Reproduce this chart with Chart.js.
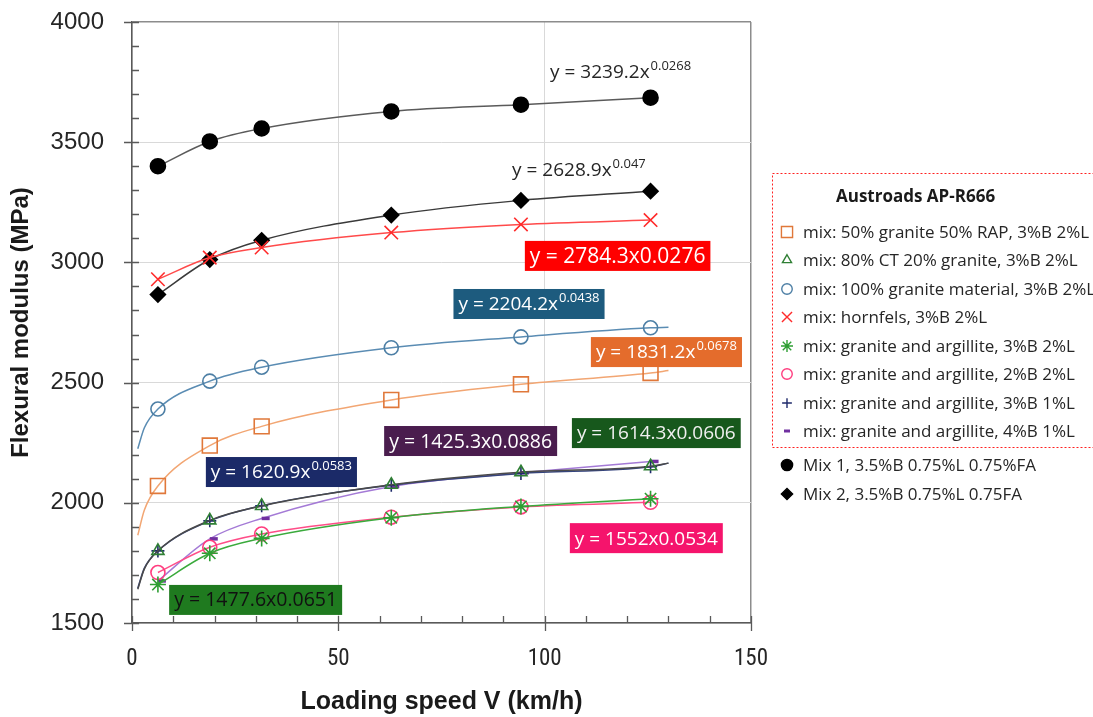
<!DOCTYPE html>
<html>
<head>
<meta charset="utf-8">
<script src="https://cdn.jsdelivr.net/npm/chart.js@4.4.1/dist/chart.umd.min.js"></script>
<style>
  html, body { margin: 0; padding: 0; background: #fff; }
  #wrap { width: 1093px; height: 717px; position: relative; }
</style>
</head>
<body>
<div id="wrap"><canvas id="modulusChart" width="1093" height="717"></canvas></div>
<script>
// loading speeds (km/h)
const speedKmh = [6.28, 18.85, 31.42, 62.83, 94.25, 125.66];

// flexural modulus (MPa)
const rap50 = [2070, 2238, 2318, 2428, 2493, 2540];
const ct80 = [1800, 1927, 1987, 2075, 2127, 2152];
const granite100 = [2390, 2506, 2564, 2645, 2690, 2728];
const hornfels = [2930, 3020, 3062, 3124, 3158, 3176];
const argB3L2 = [1660, 1790, 1852, 1938, 1985, 2017];
const argB2L2 = [1710, 1815, 1870, 1940, 1983, 2002];
const argB3L1 = [1800, 1925, 1988, 2073, 2122, 2150];
const argB4L1 = [1675, 1850, 1935, 2068, 2125, 2172];
const mix1 = [3400, 3503, 3557, 3628, 3656, 3685];
const mix2 = [2866, 3012, 3092, 3197, 3258, 3296];

// trendline ends: values at x = 1.4, 3 and 130
const trendStartX = [1.4, 3];
const trendEndX = 130;
const rap50Trend = [1865, 1970, 2550];
const ct80Trend = [1640, 1725, 2165];
const granite100Trend = [2225, 2312, 2730];
const argB3L1Trend = [1645, 1728, 2165];

const yTicks = [1500, 2000, 2500, 3000, 3500, 4000];
const xTicks = [0, 50, 100, 150];

const legendTitle = 'Austroads AP-R666';

const series = [
    { label: 'mix: 50% granite 50% RAP, 3%B 2%L', values: rap50, trend: rap50Trend, style: 'rect', r: 10.5, color: '#e0783a', line: '#f2a673', fill: false },
    { label: 'mix: 80% CT 20% granite, 3%B 2%L', values: ct80, trend: ct80Trend, style: 'triangle', r: 7, color: '#2f7f34', line: '#4a4a4a', fill: false },
    { label: 'mix: 100% granite material, 3%B 2%L', values: granite100, trend: granite100Trend, style: 'circle', r: 7, color: '#4d7fa5', line: '#5a8cb3', fill: false },
    { label: 'mix: hornfels, 3%B 2%L', values: hornfels, trend: null, style: 'crossRot', r: 9.5, color: '#ff2a2a', line: '#ff4a4a', fill: false },
    { label: 'mix: granite and argillite, 3%B 2%L', values: argB3L2, trend: null, style: 'star', r: 8, color: '#2e9e33', line: '#3aaa3c', fill: false },
    { label: 'mix: granite and argillite, 2%B 2%L', values: argB2L2, trend: null, style: 'circle', r: 7, color: '#ff3d7f', line: '#ff4d88', fill: false },
    { label: 'mix: granite and argillite, 3%B 1%L', values: argB3L1, trend: argB3L1Trend, style: 'cross', r: 6.5, color: '#1f2a6b', line: '#36457e', fill: false },
    { label: 'mix: granite and argillite, 4%B 1%L', values: argB4L1, trend: null, style: 'dash', r: 8, color: '#7030a0', line: '#a47ad6', fill: false },
    { label: 'Mix 1, 3.5%B 0.75%L 0.75%FA', values: mix1, trend: null, style: 'circle', r: 7.5, color: '#000000', line: '#5a5a5a', fill: true },
    { label: 'Mix 2, 3.5%B 0.75%L 0.75FA', values: mix2, trend: null, style: 'rectRot', r: 7.5, color: '#000000', line: '#3a3a3a', fill: true }
];

// fitted equations shown on the chart, anchored at (left x, middle y) in data units
const equations = [
    { base: 'y = 3239.2x', sup: '0.0268', x: 100.1, y: 3792, bg: null, fg: '#262626', size: 19 },
    { base: 'y = 2628.9x', sup: '0.047', x: 90.9, y: 3384, bg: null, fg: '#262626', size: 19 },
    { base: 'y = 2784.3x0.0276', sup: '', x: 95.2, y: 3027, bg: '#ff0000', fg: '#ffffff', size: 21 },
    { base: 'y = 2204.2x', sup: '0.0438', x: 77.9, y: 2827, bg: '#1d5b7e', fg: '#ffffff', size: 19 },
    { base: 'y = 1831.2x', sup: '0.0678', x: 111.2, y: 2627, bg: '#e46c2c', fg: '#ffffff', size: 19 },
    { base: 'y = 1425.3x0.0886', sup: '', x: 61.1, y: 2257, bg: '#4a1d4e', fg: '#ffffff', size: 19.5 },
    { base: 'y = 1614.3x0.0606', sup: '', x: 106.6, y: 2290, bg: '#17581c', fg: '#f0f0f0', size: 19 },
    { base: 'y = 1620.9x', sup: '0.0583', x: 17.9, y: 2128, bg: '#1b2a68', fg: '#ffffff', size: 19 },
    { base: 'y = 1552x0.0534', sup: '', x: 106.1, y: 1853, bg: '#f5146c', fg: '#ffffff', size: 19 },
    { base: 'y = 1477.6x0.0651', sup: '', x: 9.0, y: 1596, bg: '#1f7a1f', fg: '#111111', size: 19.5 }
];

const textFont = "'Open Sans', 'Liberation Sans', sans-serif";

function buildDataset(s) {
    const pts = [];
    const radius = [];
    if (s.trend) {
        trendStartX.forEach((x, i) => { pts.push({ x: x, y: s.trend[i] }); radius.push(0); });
    }
    speedKmh.forEach((x, i) => { pts.push({ x: x, y: s.values[i] }); radius.push(s.r); });
    if (s.trend) {
        pts.push({ x: trendEndX, y: s.trend[2] });
        radius.push(0);
    }
    return {
        label: s.label,
        data: pts,
        showLine: true,
        cubicInterpolationMode: 'monotone',
        borderColor: s.line,
        borderWidth: 1.5,
        pointStyle: s.style,
        pointRadius: radius,
        pointBorderColor: s.color,
        pointBackgroundColor: s.fill ? s.color : 'rgba(0,0,0,0)',
        pointBorderWidth: s.style === 'dash' ? 3.5 : 1.6
    };
}

// short inner ticks every 100 MPa / 10 km/h, longer crossing ticks at the labelled values
const minorTicks = {
    id: 'minorTicks',
    afterDraw(chart) {
        const ctx = chart.ctx;
        const xs = chart.scales.x;
        const ys = chart.scales.y;
        const left = chart.chartArea.left;
        const bottom = chart.chartArea.bottom;
        ctx.save();
        ctx.strokeStyle = '#595959';
        ctx.lineWidth = 1.3;
        ctx.beginPath();
        for (let v = 1500; v <= 4000; v += 100) {
            const py = Math.round(ys.getPixelForValue(v)) + 0.5;
            const major = v % 500 === 0;
            ctx.moveTo(left - (major ? 8 : 0), py);
            ctx.lineTo(left + 7, py);
        }
        for (let v = 0; v <= 150; v += 10) {
            const px = Math.round(xs.getPixelForValue(v)) + 0.5;
            const major = v % 50 === 0;
            ctx.moveTo(px, bottom - 7);
            ctx.lineTo(px, bottom + (major ? 8 : 0));
        }
        ctx.stroke();
        ctx.restore();
    }
};

const equationLabels = {
    id: 'equationLabels',
    afterDatasetsDraw(chart) {
        const ctx = chart.ctx;
        const xs = chart.scales.x;
        const ys = chart.scales.y;
        ctx.save();
        ctx.textBaseline = 'middle';
        equations.forEach(eq => {
            const px = xs.getPixelForValue(eq.x);
            const py = ys.getPixelForValue(eq.y);
            ctx.font = eq.size + 'px ' + textFont;
            const wBase = ctx.measureText(eq.base).width;
            ctx.font = '13px ' + textFont;
            const wSup = eq.sup ? ctx.measureText(eq.sup).width + 1 : 0;
            const pad = 5;
            if (eq.bg) {
                ctx.fillStyle = eq.bg;
                ctx.fillRect(px, py - 15, wBase + wSup + pad * 2, 30);
            }
            ctx.fillStyle = eq.fg;
            ctx.font = eq.size + 'px ' + textFont;
            ctx.fillText(eq.base, px + pad, py + 1);
            if (eq.sup) {
                ctx.font = '13px ' + textFont;
                ctx.fillText(eq.sup, px + pad + wBase + 1, py - 6);
            }
        });
        ctx.restore();
    }
};

const customLegend = {
    id: 'customLegend',
    afterDraw(chart) {
        const ctx = chart.ctx;
        const boxLeft = 772, boxTop = 173, boxBottom = 447;
        const markX = 787, textX = 803;
        const rowY = [232, 260, 289, 317, 346, 374, 403, 431, 465, 494];
        ctx.save();
        ctx.strokeStyle = '#ff2020';
        ctx.lineWidth = 1;
        ctx.setLineDash([2, 2]);
        ctx.strokeRect(boxLeft + 0.5, boxTop + 0.5, 340, boxBottom - boxTop);
        ctx.setLineDash([]);
        ctx.fillStyle = '#1a1a1a';
        ctx.textBaseline = 'middle';
        ctx.font = 'bold 17px ' + textFont;
        ctx.fillText(legendTitle, 836, 197);
        ctx.font = '17px ' + textFont;
        series.forEach((s, i) => {
            const y = rowY[i];
            ctx.strokeStyle = s.color;
            ctx.fillStyle = s.fill ? s.color : 'rgba(0,0,0,0)';
            ctx.lineWidth = s.style === 'dash' ? 3 : 1.4;
            Chart.helpers.drawPoint(ctx, {
                pointStyle: s.style,
                radius: s.style === 'dash' ? 6 : s.r * 0.75,
                borderWidth: ctx.lineWidth,
                rotation: 0
            }, s.style === 'dash' ? markX - 3 : markX, y);
            ctx.fillStyle = '#262626';
            ctx.fillText(s.label, textX, y + 1);
        });
        ctx.restore();
    }
};

new Chart(document.getElementById('modulusChart'), {
    type: 'scatter',
    data: { datasets: series.map(buildDataset) },
    plugins: [equationLabels, minorTicks, customLegend],
    options: {
        responsive: false,
        animation: false,
        layout: { padding: { left: 0, right: 342, top: 22, bottom: 0 } },
        plugins: {
            legend: { display: false },
            tooltip: { enabled: false }
        },
        scales: {
            x: {
                type: 'linear',
                min: 0,
                max: 150,
                afterFit: s => { s.height = 94; },
                afterBuildTicks: s => { s.ticks = xTicks.map(v => ({ value: v })); },
                ticks: {
                    padding: 22,
                    color: '#262626',
                    callback: v => String(v),
                    font: { family: "'Liberation Sans Narrow', 'Roboto Condensed', 'Liberation Sans', sans-serif", size: 23 }
                },
                grid: {
                    drawTicks: false,
                    color: c => (c.tick && c.tick.value === 150) ? '#8c8c8c' : '#d9d9d9',
                    lineWidth: c => (c.tick && c.tick.value === 150) ? 1.5 : 1
                },
                border: { color: '#595959', width: 1.5 },
                title: {
                    display: true,
                    text: 'Loading speed V (km/h)',
                    color: '#1a1a1a',
                    font: { family: "'Liberation Sans', sans-serif", size: 25, weight: 'bold' },
                    padding: { top: 8, bottom: 0 }
                }
            },
            y: {
                type: 'linear',
                min: 1500,
                max: 4000,
                afterFit: s => { s.width = 132; s.paddingTop = 0; s.paddingBottom = 0; },
                afterBuildTicks: s => { s.ticks = yTicks.map(v => ({ value: v })); },
                ticks: {
                    padding: 28,
                    color: '#262626',
                    callback: v => String(v),
                    font: { family: "'Liberation Sans', sans-serif", size: 24 }
                },
                grid: {
                    drawTicks: false,
                    color: c => (c.tick && c.tick.value === 4000) ? '#8c8c8c' : '#d9d9d9',
                    lineWidth: c => (c.tick && c.tick.value === 4000) ? 1.5 : 1
                },
                border: { color: '#595959', width: 1.5 },
                title: {
                    display: true,
                    text: 'Flexural modulus (MPa)',
                    color: '#1a1a1a',
                    font: { family: "'Liberation Sans', sans-serif", size: 24, weight: 'bold' },
                    padding: { top: 7, bottom: 0 }
                }
            }
        }
    }
});
</script>
</body>
</html>
